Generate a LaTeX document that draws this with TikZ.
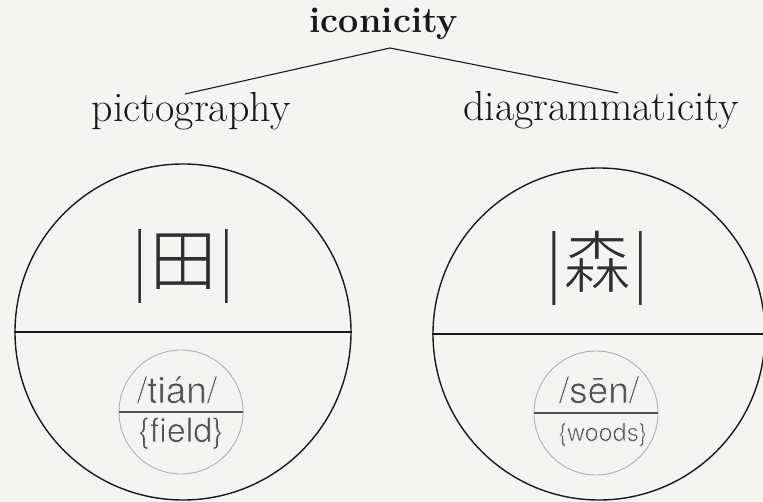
\documentclass[tikz,border=0pt]{standalone}
\usepackage{fontspec}
\newfontfamily\cjk{Noto Sans CJK SC}
\newfontfamily\sansf{TeX Gyre Heros}
\definecolor{bg}{RGB}{244,244,242}
\definecolor{ink}{RGB}{25,25,25}
\definecolor{grayink}{RGB}{80,80,80}
\definecolor{ringgray}{RGB}{175,175,175}
\newcommand\thinglyph[1]{\special{pdf:literal direct 2 Tr 1.5 w 0.957 0.957 0.949 RG}#1}
\newcommand\thintext[1]{\special{pdf:literal direct 2 Tr 0.7 w 0.957 0.957 0.949 RG}#1}
\begin{document}
\begin{tikzpicture}[x=1pt,y=-1pt,
  titletext/.style={font=\fontsize{36}{38}\selectfont\bfseries, text=ink, inner sep=0pt, anchor=base},
  labeltext/.style={font=\fontsize{42}{44}\selectfont, text=ink, inner sep=0pt, anchor=base},
  branch/.style={draw=ink, line width=1.1pt},
  bigring/.style={draw=ink, line width=1.4pt, circle, inner sep=0pt},
  smallring/.style={draw=ringgray, line width=0.9pt, circle, inner sep=0pt},
  bigdivider/.style={draw=ink, line width=1.5pt},
  smalldivider/.style={draw=grayink, line width=1.6pt},
  glyph/.style={font=\cjk\fontsize{68}{70}\selectfont, text=ink!90, inner sep=0pt, anchor=base},
  sound/.style={font=\sansf\fontsize{37}{39}\selectfont, text=grayink, inner sep=0pt, anchor=base},
  meaning/.style={font=\sansf\fontsize{34}{36}\selectfont, text=grayink, inner sep=0pt, anchor=base},
  meaningsmall/.style={font=\sansf\fontsize{25}{27}\selectfont, text=grayink, inner sep=0pt, anchor=base}
]
\fill[bg] (0,0) rectangle (763,502);
\useasboundingbox (0,0) rectangle (763,502);

% tree
\node[titletext] (icon) at (384,33) {iconicity};
\node[labeltext] (pict) at (191,122) {pictography};
\node[labeltext] (diag) at (601,121) {diagrammaticity};
\coordinate (apex) at (390,48);
\coordinate (lend) at (185,94);
\coordinate (rend) at (618,93);
\draw[branch] (lend) -- (apex) -- (rend);

% left circle
\node[bigring, minimum size=336pt] (L) at (183,332) {};
\draw[bigdivider] (L.west) -- (L.east);
\node[glyph] (Lg) at (183,285) {\thinglyph{|田|}};
\node[smallring, minimum size=124pt] (l) at (181,412) {};
\draw[smalldivider] (l.west) -- (l.east);
\node[sound] (ls) at (177,403) {\thintext{/tián/}};
\node[meaning] (lm) at (181,442) {\thintext{\{field\}}};

% right circle
\node[bigring, minimum size=332pt] (R) at (599,334) {};
\draw[bigdivider] (R.west) -- (R.east);
\node[glyph] (Rg) at (597,287) {\thinglyph{|森|}};
\node[smallring, minimum size=124pt] (r) at (596,413) {};
\draw[smalldivider] (r.west) -- (r.east);
\node[sound] (rs) at (599,403) {\thintext{/sēn/}};
\node[meaningsmall] (rm) at (603,441) {\thintext{\{woods\}}};
\end{tikzpicture}
\end{document}
